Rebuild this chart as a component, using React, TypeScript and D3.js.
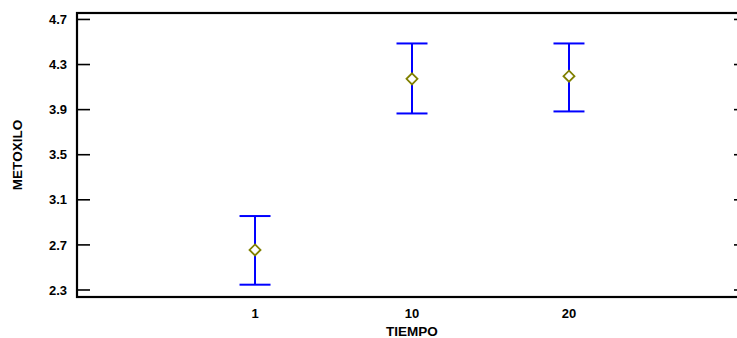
import React from "react";
import * as d3 from "d3";

// Group means with confidence intervals
const categories = ["1", "10", "20"];
const means = [2.655, 4.173, 4.197];
const lowers = [2.347, 3.866, 3.884];
const uppers = [2.956, 4.487, 4.487];
const yTicks = [2.3, 2.7, 3.1, 3.5, 3.9, 4.3, 4.7];

const W = 737;
const H = 338;
const plot = { left: 77, right: 747, top: 13, bottom: 297 };

export default function App() {
  const x = d3
    .scaleLinear()
    .domain([-1.134, 3.134])
    .range([plot.left, plot.right]);
  const y = d3
    .scaleLinear()
    .domain([2.2378, 4.7572])
    .range([plot.bottom, plot.top]);

  const font = "'Liberation Sans', Arial, sans-serif";
  const blue = "#0000ff";
  const olive = "#808000";
  const cap = 15.5;
  const d = 5.5;

  return (
    <svg
      width={W}
      height={H}
      style={{ position: "absolute", left: 0, top: 0, background: "#fff" }}
      fontFamily={font}
      fontWeight="bold"
    >
      {/* frame */}
      <rect
        x={plot.left}
        y={plot.top}
        width={plot.right - plot.left}
        height={plot.bottom - plot.top}
        fill="none"
        stroke="#000"
        strokeWidth={2.2}
      />
      {/* y ticks on both sides */}
      {yTicks.map((t) => (
        <g key={t}>
          <line
            x1={plot.left}
            x2={plot.left + 13}
            y1={y(t)}
            y2={y(t)}
            stroke="#000"
            strokeWidth={1.6}
          />
          <line
            x1={plot.right - 13}
            x2={plot.right}
            y1={y(t)}
            y2={y(t)}
            stroke="#000"
            strokeWidth={1.6}
          />
          <text
            x={plot.left - 10}
            y={y(t)}
            dy="0.36em"
            textAnchor="end"
            fontSize={13}
            fill="#000"
          >
            {t.toFixed(1)}
          </text>
        </g>
      ))}
      {/* x labels */}
      {categories.map((c, i) => (
        <text
          key={c}
          x={x(i)}
          y={318}
          textAnchor="middle"
          fontSize={13}
          fill="#000"
        >
          {c}
        </text>
      ))}
      <text x={412} y={336} textAnchor="middle" fontSize={13.5} fill="#000">
        TIEMPO
      </text>
      <text
        transform={`translate(22,155) rotate(-90)`}
        textAnchor="middle"
        fontSize={13.5}
        fill="#000"
      >
        METOXILO
      </text>
      {/* intervals and means */}
      {categories.map((c, i) => {
        const cx = x(i);
        return (
          <g key={c}>
            <line x1={cx} x2={cx} y1={y(uppers[i])} y2={y(lowers[i])} stroke={blue} strokeWidth={2} />
            <line x1={cx - cap} x2={cx + cap} y1={y(uppers[i])} y2={y(uppers[i])} stroke={blue} strokeWidth={2} />
            <line x1={cx - cap} x2={cx + cap} y1={y(lowers[i])} y2={y(lowers[i])} stroke={blue} strokeWidth={2} />
            <path
              d={`M${cx},${y(means[i]) - d}L${cx + d},${y(means[i])}L${cx},${y(means[i]) + d}L${cx - d},${y(means[i])}Z`}
              fill="#fff"
              stroke={olive}
              strokeWidth={1.8}
            />
          </g>
        );
      })}
    </svg>
  );
}
